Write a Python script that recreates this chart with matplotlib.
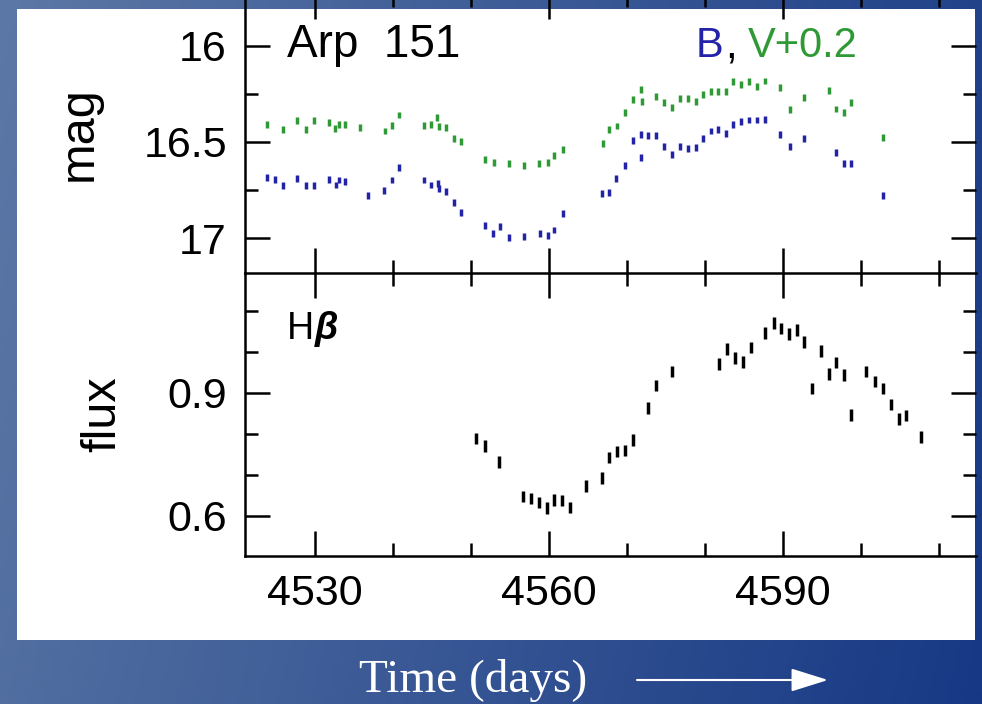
import numpy as np
import matplotlib.pyplot as plt
from matplotlib.ticker import MultipleLocator, FuncFormatter
from matplotlib.patches import Rectangle

plt.rcParams['font.family'] = ['Liberation Sans', 'DejaVu Sans']

# ---- B band (blue) ----
b_day = [4523.8, 4524.9, 4525.9, 4527.7, 4528.8, 4529.9, 4531.8, 4532.7, 4533.0, 4533.8,
         4536.8, 4538.8, 4539.8, 4540.8, 4543.9, 4544.9, 4545.7, 4545.9, 4546.8, 4547.8,
         4548.7, 4551.8, 4552.8, 4553.7, 4554.8, 4556.7, 4558.8, 4559.8, 4560.6, 4561.7,
         4566.8, 4567.7, 4568.6, 4569.7, 4570.7, 4571.7, 4571.8, 4572.7, 4573.7, 4574.7,
         4575.7, 4576.8, 4577.8, 4578.8, 4579.7, 4580.7, 4581.6, 4582.7, 4583.6, 4584.6,
         4585.6, 4586.6, 4587.6, 4589.6, 4590.8, 4592.6, 4596.8, 4597.8, 4598.7, 4602.8]
b_mag = [16.683, 16.693, 16.724, 16.688, 16.726, 16.726, 16.693, 16.723, 16.697, 16.706,
         16.778, 16.752, 16.697, 16.633, 16.697, 16.723, 16.714, 16.740, 16.757, 16.812,
         16.866, 16.935, 16.973, 16.939, 16.994, 16.990, 16.973, 16.987, 16.956, 16.873,
         16.766, 16.763, 16.688, 16.623, 16.493, 16.460, 16.579, 16.467, 16.467, 16.524,
         16.564, 16.521, 16.533, 16.528, 16.484, 16.443, 16.433, 16.455, 16.408, 16.395,
         16.386, 16.386, 16.382, 16.460, 16.524, 16.484, 16.553, 16.610, 16.610, 16.775]

# ---- V band + 0.2 (green) ----
v_day = [4523.8, 4525.9, 4527.7, 4528.8, 4529.9, 4531.8, 4532.6, 4533.0, 4533.8, 4535.8,
         4538.9, 4539.8, 4540.8, 4543.9, 4544.9, 4545.6, 4545.9, 4546.8, 4547.8, 4548.7,
         4551.8, 4552.9, 4554.8, 4556.7, 4558.7, 4559.9, 4560.6, 4561.7,
         4566.9, 4567.6, 4568.7, 4569.7, 4570.7, 4571.7, 4571.9, 4573.7, 4574.7, 4575.7,
         4576.8, 4577.8, 4578.8, 4579.7, 4580.7, 4581.6, 4582.7, 4583.6, 4584.6, 4585.6,
         4586.6, 4587.6, 4589.6, 4590.8, 4592.6, 4595.9, 4596.8, 4597.8, 4598.7, 4602.8]
v_mag = [16.408, 16.433, 16.391, 16.433, 16.391, 16.400, 16.430, 16.407, 16.410, 16.424,
         16.443, 16.416, 16.360, 16.416, 16.410, 16.372, 16.420, 16.426, 16.484, 16.498,
         16.590, 16.607, 16.610, 16.623, 16.610, 16.605, 16.571, 16.541,
         16.507, 16.433, 16.417, 16.348, 16.282, 16.227, 16.291, 16.265, 16.294, 16.322,
         16.277, 16.274, 16.288, 16.256, 16.236, 16.236, 16.236, 16.188, 16.200, 16.188,
         16.210, 16.184, 16.217, 16.334, 16.268, 16.234, 16.329, 16.346, 16.296, 16.476]

# ---- H-beta flux ----
hb_day = [4550.6, 4551.7, 4553.6, 4556.6, 4557.7, 4558.7, 4559.7, 4560.6, 4561.6, 4562.7,
          4564.7, 4566.7, 4567.7, 4568.7, 4569.7, 4570.7, 4572.7, 4573.7, 4575.7, 4581.7,
          4582.8, 4583.8, 4584.8, 4585.8, 4587.7, 4588.8, 4589.7, 4590.7, 4591.8, 4592.7,
          4593.7, 4594.8, 4595.8, 4596.8, 4597.8, 4598.7, 4600.6, 4601.7, 4602.8, 4603.8,
          4604.8, 4605.7, 4607.7]
hb_flux = [0.789, 0.771, 0.732, 0.647, 0.643, 0.632, 0.619, 0.639, 0.637, 0.621,
           0.673, 0.692, 0.742, 0.757, 0.759, 0.785, 0.863, 0.918, 0.952, 0.971,
           1.007, 0.985, 0.976, 1.011, 1.047, 1.071, 1.058, 1.044, 1.054, 1.025,
           0.911, 1.002, 0.946, 0.975, 0.944, 0.846, 0.952, 0.928, 0.911, 0.872,
           0.837, 0.845, 0.792]

B_ERR = 0.018
V_ERR = 0.018
HB_ERR = 0.014

BLUE = "#2323a8"
GREEN = "#2f9a35"

W, H = 982, 704
fig = plt.figure(figsize=(W / 100, H / 100), dpi=100)

# background gradient
bg = fig.add_axes([0, 0, 1, 1], zorder=-10)
gx = np.linspace(0, 1, 256)[None, :]
gy = np.linspace(0, 1, 64)[:, None]
left_c = np.array([0.36, 0.47, 0.65])
right_c = np.array([0.09, 0.22, 0.52])
t = np.clip(gx * 0.85 + gy * 0.15, 0, 1)[..., None]
img = left_c * (1 - t) + right_c * t
bg.imshow(img, extent=[0, 1, 0, 1], aspect="auto", origin="upper")
bg.set_axis_off()

# white panel
fig.patches.append(Rectangle((17 / W, 1 - 640 / H), (975 - 17) / W, (640 - 9) / H,
                             transform=fig.transFigure, facecolor="white",
                             edgecolor="none", zorder=-5))


def px_box(x0, x1, ytop, ybot):
    return [x0 / W, 1 - ybot / H, (x1 - x0) / W, (ybot - ytop) / H]


ax1 = fig.add_axes(px_box(245, 976, -6, 273))
ax2 = fig.add_axes(px_box(245, 976, 273, 556))

for ax in (ax1, ax2):
    ax.set_facecolor("none")
    ax.set_xlim(4521.0, 4614.7)
    ax.xaxis.set_major_locator(MultipleLocator(30))
    ax.xaxis.set_minor_locator(MultipleLocator(10))
    ax.tick_params(which="both", direction="in", top=True, right=True,
                   width=1.8, colors="black", labelsize=31, pad=13)
    ax.tick_params(which="major", length=18)
    ax.tick_params(which="minor", length=9.5)
    ax.spines["right"].set_visible(False)
    for s in ax.spines.values():
        s.set_linewidth(1.8)

ax1.spines["top"].set_visible(False)
ax2.spines["top"].set_visible(False)
ax1.tick_params(labelbottom=False)

# top panel: magnitudes
ax1.errorbar(v_day, v_mag, yerr=V_ERR, fmt="none", ecolor=GREEN, elinewidth=2.5, capsize=0)
ax1.errorbar(b_day, b_mag, yerr=B_ERR, fmt="none", ecolor=BLUE, elinewidth=2.5, capsize=0)
ax1.set_ylim(17.179, 15.733)
ax1.yaxis.set_major_locator(MultipleLocator(0.5))
ax1.yaxis.set_minor_locator(MultipleLocator(0.25))
ax1.yaxis.set_major_formatter(FuncFormatter(lambda v, p: "%g" % v))
ax1.set_ylabel("mag", fontsize=35, labelpad=30)

ax1.text(4526.4, 16.06, "Arp  151", fontsize=33, ha="left", va="baseline")
ax1.text(4578.7, 16.06, "B", fontsize=30, color=BLUE, ha="left", va="baseline")
ax1.text(4582.6, 16.06, ",", fontsize=30, color="black", ha="left", va="baseline")
ax1.text(4585.5, 16.06, "V+0.2", fontsize=30, color=GREEN, ha="left", va="baseline")

# bottom panel: H-beta flux
ax2.errorbar(hb_day, hb_flux, yerr=HB_ERR, fmt="none", ecolor="black", elinewidth=2.5, capsize=0)
ax2.set_ylim(0.502, 1.193)
ax2.yaxis.set_major_locator(MultipleLocator(0.3))
ax2.yaxis.set_minor_locator(MultipleLocator(0.1))
ax2.yaxis.set_major_formatter(FuncFormatter(lambda v, p: "%g" % round(v, 2)))
ax2.set_ylabel("flux", fontsize=35, labelpad=30)

ax2.text(4526.4, 1.032, "H", fontsize=27, ha="left", va="baseline")
ax2.text(4529.9, 1.032, "\u03b2", fontsize=27, ha="left", va="baseline",
         fontweight="bold", fontstyle="italic")

# caption and arrow below the panel
fig.text(473 / W, 1 - 680 / H, "Time (days)", color="white", fontsize=34,
         family="Liberation Serif", ha="center", va="center")
bg.annotate("", xy=(828 / W, 1 - 680 / H), xytext=(637 / W, 1 - 680 / H),
            xycoords="figure fraction", textcoords="figure fraction",
            arrowprops=dict(arrowstyle="-|>,head_length=1.15,head_width=0.36",
                            mutation_scale=20, color="white", lw=1.5,
                            shrinkA=0, shrinkB=0))

fig.savefig("out.png", dpi=100)
